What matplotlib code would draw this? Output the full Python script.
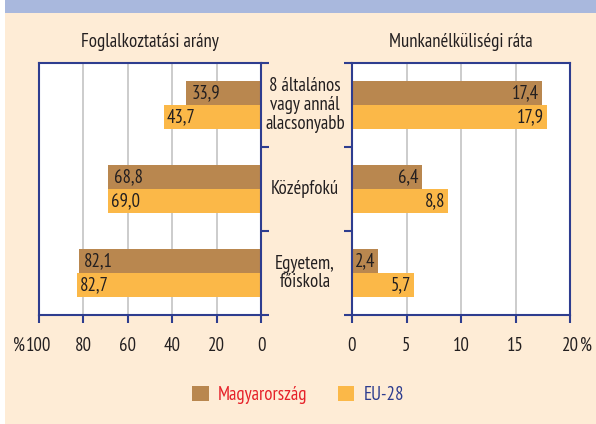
import matplotlib
matplotlib.use("Agg")
import matplotlib.pyplot as plt
import matplotlib.transforms as mtransforms
from matplotlib.patches import Rectangle, Patch

plt.rcParams['font.family'] = ['PT Sans Narrow', 'DejaVu Sans']
plt.rcParams['font.size'] = 13.5

# data
categories = ["8 általános\nvagy annál\nalacsonyabb", "Középfokú", "Egyetem,\nfőiskola"]
series = ["Magyarország", "EU-28"]
employment_hu = [33.9, 68.8, 82.1]
employment_eu = [43.7, 69.0, 82.7]
unemployment_hu = [17.4, 6.4, 2.4]
unemployment_eu = [17.9, 8.8, 5.7]
emp_ticks = [100, 80, 60, 40, 20, 0]
unemp_ticks = [0, 5, 10, 15, 20]

BROWN = "#b9874f"
YELLOW = "#fbb848"
BLUE = "#2e3d8f"
RED = "#e62129"
CREAM = "#feecd6"
BAND = "#a9b8dd"
TXT = "#231f20"
GRID = "#c4c4c4"

W, H = 596, 424
fig = plt.figure(figsize=(W / 100, H / 100), dpi=100, facecolor="white")
fig.patches.append(Rectangle((5 / W, 0), 1, 1, transform=fig.transFigure,
                             facecolor=CREAM, edgecolor="none", zorder=-2))
fig.patches.append(Rectangle((5 / W, 1 - 13 / H), 1, 13 / H, transform=fig.transFigure,
                             facecolor=BAND, edgecolor="none", zorder=-1))

bottom = 109 / H
height = 252 / H
ax_l = fig.add_axes([39 / W, bottom, 222 / W, height])
ax_r = fig.add_axes([352 / W, bottom, 218 / W, height])

y = list(range(len(categories)))
bh = 0.29
off = bh / 2

TICKLEN = 6
PAD = 10

for ax in (ax_l, ax_r):
    ax.set_facecolor("white")
    for s in ax.spines.values():
        s.set_color(BLUE)
        s.set_linewidth(1.5)
    ax.set_ylim(2.5, -0.5)
    ax.set_yticks([-0.5, 0.5, 1.5, 2.5])
    ax.set_yticklabels([])
    ax.tick_params(axis="both", direction="out", color=BLUE, width=1.5, length=TICKLEN)
    ax.tick_params(axis="x", pad=PAD, labelcolor=TXT)
    ax.grid(axis="x", color=GRID, linewidth=1.2)
    ax.set_axisbelow(True)

# employment (left, reversed axis)
ax_l.barh([v - off for v in y], employment_hu, height=bh, color=BROWN)
ax_l.barh([v + off for v in y], employment_eu, height=bh, color=YELLOW)
ax_l.set_xlim(100, 0)
ax_l.set_xticks(emp_ticks)
ax_l.set_xticklabels([str(t) for t in emp_ticks])
ax_l.yaxis.tick_right()
for i in y:
    ax_l.annotate(f"{employment_hu[i]:.1f}".replace(".", ","), (employment_hu[i], i - off),
                  xytext=(4, 0), textcoords="offset points", ha="left", va="center", color=TXT)
    ax_l.annotate(f"{employment_eu[i]:.1f}".replace(".", ","), (employment_eu[i], i + off),
                  xytext=(2, 0), textcoords="offset points", ha="left", va="center", color=TXT)

# unemployment (right)
ax_r.barh([v - off for v in y], unemployment_hu, height=bh, color=BROWN)
ax_r.barh([v + off for v in y], unemployment_eu, height=bh, color=YELLOW)
ax_r.set_xlim(0, 20)
ax_r.set_xticks(unemp_ticks)
ax_r.set_xticklabels([str(t) for t in unemp_ticks])
for i in y:
    ax_r.annotate(f"{unemployment_hu[i]:.1f}".replace(".", ","), (unemployment_hu[i], i - off),
                  xytext=(-2, 0), textcoords="offset points", ha="right", va="center", color=TXT)
    ax_r.annotate(f"{unemployment_eu[i]:.1f}".replace(".", ","), (unemployment_eu[i], i + off),
                  xytext=(-2, 0), textcoords="offset points", ha="right", va="center", color=TXT)

# percent signs next to the end ticks
ax_l.annotate("%", (100, 0), xycoords=ax_l.get_xaxis_transform(), xytext=(-10, -(TICKLEN + PAD)),
              textcoords="offset points", ha="right", va="top", color=TXT)
ax_r.annotate("%", (20, 0), xycoords=ax_r.get_xaxis_transform(), xytext=(7, -(TICKLEN + PAD)),
              textcoords="offset points", ha="left", va="top", color=TXT)

# category labels between the panels
trans = mtransforms.blended_transform_factory(fig.transFigure, ax_r.transData)
for i, c in zip(y, categories):
    ax_r.text(305 / W, i, c, transform=trans, ha="center", va="center", color=TXT,
              linespacing=1.05)

# panel titles
fig.text(150 / W, 1 - 42 / H, "Foglalkoztatási arány", ha="center", va="center", color=TXT)
fig.text(461 / W, 1 - 42 / H, "Munkanélküliségi ráta", ha="center", va="center", color=TXT)

handles = [Patch(facecolor=BROWN), Patch(facecolor=YELLOW)]
leg = fig.legend(handles, series, loc="center", bbox_to_anchor=(0.5, 1 - 395 / H), ncol=2,
                 frameon=False, handlelength=0.9, handleheight=0.9, handletextpad=0.5,
                 columnspacing=1.6)
for t, col in zip(leg.get_texts(), [RED, BLUE]):
    t.set_color(col)

fig.savefig("out.png", dpi=100, facecolor=fig.get_facecolor())
